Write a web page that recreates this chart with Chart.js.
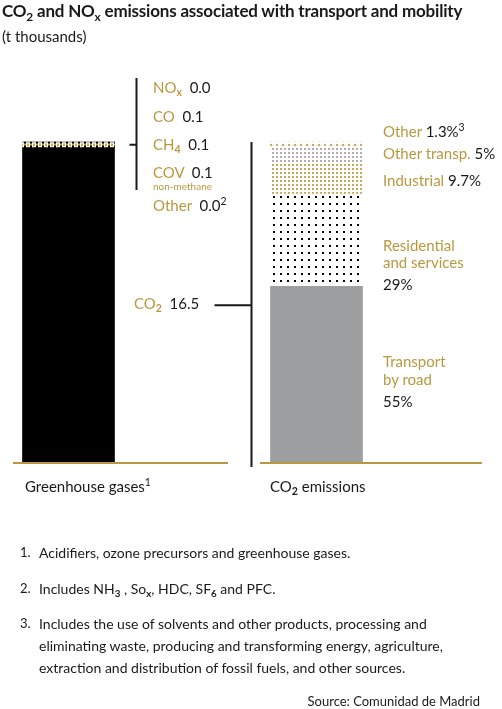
<!DOCTYPE html>
<html>
<head>
<meta charset="utf-8">
<script src="https://cdn.jsdelivr.net/npm/chart.js@4"></script>
<style>
  body { margin: 0; background: #fff; font-family: Lato, sans-serif; color: #1a1a1a; }
  #wrap { position: relative; width: 502px; height: 709px; overflow: hidden; }
  #wrap canvas { position: absolute; left: 0; top: 0; }
  .t { position: absolute; white-space: nowrap; }
  .g { color: #b9983f; }
  sub { font-size: 0.7em; vertical-align: -0.3em; line-height: 0; font-weight: bold; }
  sup { font-size: 0.7em; vertical-align: 0.55em; line-height: 0; }
</style>
</head>
<body>
<div id="wrap">
  <canvas id="myChart"></canvas>
</div>
<script>
// categories
const categories = ['Greenhouse gases', 'CO2 emissions'];

// greenhouse gases, t thousands
const co2Value = 16.5;
const gasNames = ['NO<sub>x</sub>', 'CO', 'CH<sub>4</sub>', 'COV', 'Other'];
const gasValues = [0.0, 0.1, 0.1, 0.1, 0.0];

// CO2 emissions by source, % (bottom to top)
const sourceNames = ['Transport<br>by road', 'Residential<br>and services', 'Industrial', 'Other transp.', 'Other'];
const sourceShares = [55, 29, 9.7, 5, 1.3];

const GOLD = '#b9983f';

function dots(tw, th, dw, dh, color) {
    let c = document.createElement('canvas');
    c.width = tw; c.height = th;
    let g = c.getContext('2d');
    g.fillStyle = color;
    g.fillRect(0, 0, dw, dh);
    return g.createPattern(c, 'repeat');
}

const gasFills = [
    '#000',
    dots(6, 1, 2, 1, '#000'),
    dots(3, 1, 2, 1, '#c6a855'),
    dots(6, 1, 2, 1, '#000'),
    '#000'
];
const sourceFills = [
    '#9d9ea0',
    dots(7, 7, 2, 2, '#000'),
    dots(4, 4, 2, 2, '#c6a855'),
    dots(4, 4, 2, 2, '#b0b0b2'),
    dots(6, 4, 2, 2, '#c6a855')
];

var datasets = [];
datasets.push({ label: 'CO2', data: [co2Value, null], backgroundColor: '#000', yAxisID: 'y' });
for (let i = 0; i < gasNames.length; i++) {
    datasets.push({ label: gasNames[i], data: [gasValues[i], null], backgroundColor: gasFills[i], yAxisID: 'y' });
}
for (let i = 0; i < sourceNames.length; i++) {
    datasets.push({ label: sourceNames[i], data: [null, sourceShares[i]], backgroundColor: sourceFills[i], yAxisID: 'y2' });
}
datasets.forEach(d => { d.barThickness = 92; d.borderWidth = 0; d.clip = false; d.skipNull = true; });

const gasTotal = co2Value + gasValues.reduce((a, b) => a + b, 0);
const shareTotal = sourceShares.reduce((a, b) => a + b, 0);

// brackets, baselines
const decor = {
    id: 'decor',
    afterDatasetsDraw(chart) {
        const ctx = chart.ctx;
        const y = chart.scales.y, y2 = chart.scales.y2, x = chart.scales.x;
        const xl = x.getPixelForValue(0), xr = x.getPixelForValue(1);
        const bottom = y.getPixelForValue(0);
        ctx.save();
        ctx.fillStyle = GOLD;
        ctx.fillRect(xl - 55.5, bottom - 1, 215, 2);
        ctx.fillRect(xr - 56.5, bottom - 1, 222, 2);

        ctx.strokeStyle = '#1a1a1a';
        ctx.lineWidth = 2;
        // bracket of other gases
        const bx = xl + 68;
        const bandMid = y.getPixelForValue((co2Value + gasTotal) / 2);
        ctx.beginPath();
        ctx.moveTo(bx, 78); ctx.lineTo(bx, 190);
        ctx.moveTo(bx - 7, bandMid); ctx.lineTo(bx, bandMid);
        ctx.stroke();
        // CO2 bracket to the right bar
        const vx = xr - 65;
        const co2Mid = y.getPixelForValue(co2Value / 2);
        ctx.beginPath();
        ctx.moveTo(vx, y2.getPixelForValue(shareTotal)); ctx.lineTo(vx, bottom + 4);
        ctx.moveTo(vx - 37, co2Mid); ctx.lineTo(vx, co2Mid);
        ctx.stroke();
        ctx.restore();
    }
};

chrt = document.getElementById('myChart');
var bar = new Chart(chrt, {
    type: 'bar',
    data: { labels: categories, datasets: datasets },
    options: {
        responsive: true,
        maintainAspectRatio: false,
        animation: false,
        layout: { padding: { top: 142, bottom: 246, left: 68.5, right: 185.5 } },
        plugins: { legend: { display: false }, tooltip: { enabled: false } },
        scales: {
            x: { display: false, stacked: true, offset: false },
            y: { display: false, stacked: true, min: 0, max: gasTotal },
            y2: { display: false, stacked: true, min: 0, max: shareTotal }
        }
    },
    plugins: [decor]
});

// texts
var wrap = document.getElementById('wrap');
function place(html, x, base, size, cls, extra) {
    let d = document.createElement('div');
    d.className = 't ' + (cls || '');
    d.innerHTML = html;
    d.style.left = x + 'px';
    d.style.top = (base - 0.887 * size) + 'px';
    d.style.fontSize = size + 'px';
    d.style.lineHeight = size + 'px';
    if (extra) Object.assign(d.style, extra);
    wrap.appendChild(d);
    return d;
}
function fmt(v) { return v.toFixed(1); }

place('CO<sub>2</sub> and NO<sub>x</sub> emissions associated with transport and mobility', 2, 17, 17, '', { fontWeight: 'bold', letterSpacing: '-0.2px' });
place('(t thousands)', 2, 42, 15, '');

// gas labels
const gasBase = [93, 122, 150, 178, 211];
for (let i = 0; i < gasNames.length; i++) {
    let extra = i === 4 ? '<sup>2</sup>' : '';
    place('<span class="g">' + gasNames[i] + '</span>&nbsp; ' + fmt(gasValues[i]) + extra, 153, gasBase[i], 15, '');
}
place('non-methane', 153, 190, 10, 'g');
place('<span class="g">CO<sub>2</sub></span>&nbsp; ' + fmt(co2Value), 134, 309, 15, '');

// source labels
place('<span class="g">Other</span> ' + sourceShares[4] + '%<sup>3</sup>', 383, 137, 15, '');
place('<span class="g">Other transp.</span> ' + sourceShares[3] + '%', 383, 159, 15, '');
place('<span class="g">Industrial</span> ' + sourceShares[2] + '%', 383, 186, 15, '');
place('Residential', 383, 251, 15, 'g');
place('and services', 383, 268, 15, 'g');
place(sourceShares[1] + '%', 383, 290, 15, '');
place('Transport', 383, 367, 15, 'g');
place('by road', 383, 385, 15, 'g');
place(sourceShares[0] + '%', 383, 407, 15, '');

// category labels
place('Greenhouse gases<sup>1</sup>', 25, 492, 15, '');
place('CO<sub>2</sub> emissions', 270, 492, 15, '');

// footnotes
place('1.', 20, 558, 13, '');
place('Acidifiers, ozone precursors and greenhouse gases.', 39, 558, 14, '');
place('2.', 20, 594, 13, '');
place('Includes NH<sub>3</sub> , So<sub>x</sub>, HDC, SF<sub>6</sub> and PFC.', 39, 594, 14, '');
place('3.', 20, 629, 13, '');
place('Includes the use of solvents and other products, processing and', 39, 629, 14, '');
place('eliminating waste, producing and transforming energy, agriculture,', 39, 651, 14, '');
place('extraction and distribution of fossil fuels, and other sources.', 39, 673, 14, '');
place('Source: Comunidad de Madrid', 0, 707, 13, '', { left: 'auto', right: '22px' });
</script>
</body>
</html>
